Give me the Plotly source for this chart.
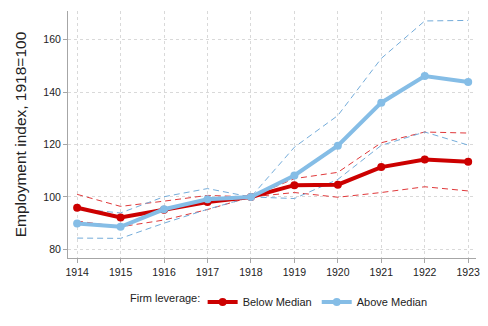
import plotly.graph_objects as go

years = [1914, 1915, 1916, 1917, 1918, 1919, 1920, 1921, 1922, 1923]

# Below median leverage: point estimate and confidence band
below = [95.9, 92.2, 95.1, 98.1, 100.0, 104.5, 104.7, 111.4, 114.3, 113.4]
below_hi = [101.0, 96.4, 98.4, 100.6, 100.0, 107.0, 109.4, 120.7, 124.8, 124.4]
below_lo = [90.8, 88.6, 91.2, 95.2, 100.0, 101.7, 99.9, 101.7, 103.9, 102.3]

# Above median leverage
above = [89.9, 88.6, 95.3, 99.1, 100.0, 108.2, 119.6, 136.0, 146.2, 143.9]
above_hi = [95.5, 93.9, 100.1, 103.2, 100.0, 119.0, 131.1, 152.9, 167.2, 167.4]
above_lo = [84.3, 84.2, 90.0, 95.3, 100.0, 99.4, 106.7, 119.7, 124.8, 119.8]

RED = "#cc0000"
BLUE = "#85bde6"
BLUE_DASH = "#74acda"
RED_DASH = "#e0393b"

fig = go.Figure()

for ys, col in [(below_hi, RED_DASH), (below_lo, RED_DASH),
                (above_hi, BLUE_DASH), (above_lo, BLUE_DASH)]:
    fig.add_trace(go.Scatter(
        x=years, y=ys, mode="lines", showlegend=False, hoverinfo="skip",
        line=dict(color=col, width=1, dash="6px,4px"),
    ))

fig.add_trace(go.Scatter(
    x=years, y=below, mode="lines+markers", name="Below Median",
    line=dict(color=RED, width=4), marker=dict(color=RED, size=8),
))
fig.add_trace(go.Scatter(
    x=years, y=above, mode="lines+markers", name="Above Median",
    line=dict(color=BLUE, width=4), marker=dict(color=BLUE, size=8),
))

axis_common = dict(
    showgrid=True, gridcolor="#d9d9d9", griddash="dot", gridwidth=1,
    showline=True, linecolor="#a6a6a6", linewidth=1,
    ticks="outside", tickcolor="#a6a6a6", ticklen=4,
    zeroline=False, tickfont=dict(size=10.5, color="#222"),
    automargin=False,
)

fig.update_xaxes(
    range=[1913.79, 1923.18], tickvals=years, **axis_common,
)
fig.update_yaxes(
    range=[76.7, 171], tickvals=[80, 100, 120, 140, 160],
    title=dict(text="Employment index, 1918=100", font=dict(size=15.5, color="#222"), standoff=12),
    **axis_common,
)

# legend title drawn as a separate label so the items can sit where they do in the original
fig.add_annotation(
    text="Firm leverage:", xref="paper", yref="paper",
    x=0.147, y=-0.161, xanchor="left", yanchor="middle",
    showarrow=False, font=dict(size=11, color="#222"),
)

fig.update_layout(
    width=488, height=326,
    margin=dict(l=68, r=12, t=11, b=67),
    paper_bgcolor="white", plot_bgcolor="white",
    font=dict(family="Liberation Sans, Arial, sans-serif", color="#222"),
    legend=dict(
        orientation="h", x=0.33, xanchor="left", y=-0.115, yanchor="top",
        font=dict(size=11), itemwidth=30, tracegroupgap=0,
    ),
)

fig.write_html("out.html", config={"displayModeBar": False},
               post_script="document.body.style.margin='0';")
